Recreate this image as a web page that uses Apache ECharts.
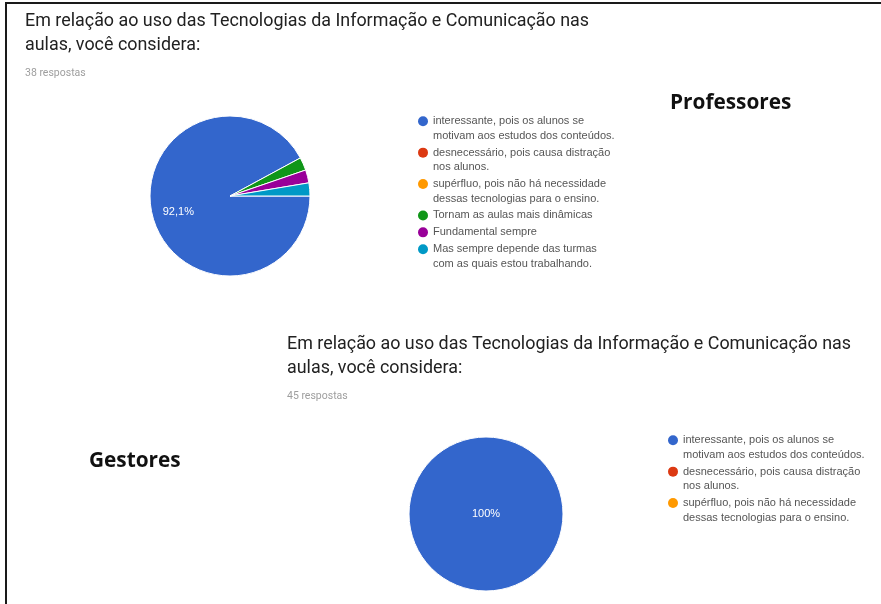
<!DOCTYPE html>
<html>
<head>
<meta charset="utf-8">
<script src="https://cdn.jsdelivr.net/npm/echarts@6/dist/echarts.min.js"></script>
<style>
html,body{margin:0;padding:0;background:#fff;}
#chart{width:881px;height:604px;}
</style>
</head>
<body>
<div id="chart"></div>
<script>
// ---- data ----
var titleText = 'Em relação ao uso das Tecnologias da Informação e Comunicação nas\naulas, você considera:';
var profResponses = '38 respostas';
var gestResponses = '45 respostas';
var profLabel = 'Professores';
var gestLabel = 'Gestores';

var profCategories = [
  'interessante, pois os alunos se\nmotivam aos estudos dos conteúdos.',
  'desnecessário, pois causa distração\nnos alunos.',
  'supérfluo, pois não há necessidade\ndessas tecnologias para o ensino.',
  'Tornam as aulas mais dinâmicas',
  'Fundamental sempre',
  'Mas sempre depende das turmas\ncom as quais estou trabalhando.'
];
var profValues = [35, 0, 0, 1, 1, 1];

var gestCategories = [
  'interessante, pois os alunos se\nmotivam aos estudos dos conteúdos.',
  'desnecessário, pois causa distração\nnos alunos.',
  'supérfluo, pois não há necessidade\ndessas tecnologias para o ensino.'
];
var gestValues = [45, 0, 0];

var palette = ['#3366cc', '#dc3912', '#ff9900', '#109618', '#990099', '#0099c6'];

// ---- build ----
var LH = 14.5;
var twoLineIcon = 'path://M5 0 M5 ' + (2 * LH) + ' M0 ' + (LH / 2) + ' A5 5 0 1 1 10 ' + (LH / 2) + ' A5 5 0 1 1 0 ' + (LH / 2) + ' Z';

function pctFmt(p) {
  var v = p.percent;
  if (Math.abs(v - Math.round(v)) < 1e-9) return Math.round(v) + '%';
  return v.toFixed(1).replace('.', ',') + '%';
}

function buildData(cats, vals, firstLabel) {
  return cats.map(function (c, i) {
    var item = {
      name: c,
      value: vals[i],
      itemStyle: { color: palette[i], borderColor: '#fff', borderWidth: vals[i] > 0 ? 1 : 0 },
      label: { show: i === 0 }
    };
    if (i === 0 && firstLabel) item.label = Object.assign({ show: true }, firstLabel);
    return item;
  });
}

function legendData(cats) {
  return cats.map(function (c) {
    return { name: c, icon: c.indexOf('\n') >= 0 ? twoLineIcon : 'circle' };
  });
}

var legendCommon = {
  orient: 'vertical',
  padding: 0,
  itemWidth: 10,
  itemHeight: 2 * LH,
  itemGap: 2.4,
  selectedMode: false,
  itemStyle: { borderWidth: 0 },
  textStyle: { fontSize: 11, color: '#555', fontFamily: '"Liberation Sans", Arial, sans-serif', lineHeight: LH }
};

var chart = echarts.init(document.getElementById('chart'), null, { renderer: 'canvas' });

var titleStyle = { fontSize: 17.9, lineHeight: 24, fontWeight: 'normal', color: '#212121', fontFamily: 'Roboto, sans-serif' };
var subStyle = { fontSize: 10.5, lineHeight: 14, color: '#9e9e9e', fontFamily: 'Roboto, sans-serif' };
var bigStyle = { fontSize: 20.8, fontWeight: 'bold', color: '#111', fontFamily: '"Open Sans", sans-serif' };

chart.setOption({
  backgroundColor: '#fff',
  animation: false,
  title: [
    { text: titleText, subtext: profResponses, left: 25, top: 10, padding: 0, itemGap: 8, textStyle: titleStyle, subtextStyle: subStyle },
    { text: titleText, subtext: gestResponses, left: 287, top: 333, padding: 0, itemGap: 8, textStyle: titleStyle, subtextStyle: subStyle },
    { text: profLabel, left: 670, top: 93, padding: 0, textStyle: bigStyle },
    { text: gestLabel, left: 89, top: 451, padding: 0, textStyle: bigStyle }
  ],
  legend: [
    Object.assign({}, legendCommon, { left: 418, top: 114, data: legendData(profCategories) }),
    Object.assign({}, legendCommon, { left: 668, top: 433, data: legendData(gestCategories) })
  ],
  series: [
    {
      type: 'pie',
      center: [230, 196],
      radius: [0, 80],
      startAngle: 0,
      clockwise: true,
      silent: true,
      label: {
        position: 'inside',
        formatter: pctFmt,
        color: '#fff',
        fontSize: 11,
        fontFamily: '"Liberation Sans", Arial, sans-serif'
      },
      labelLine: { show: false },
      data: buildData(profCategories, profValues, { offset: [-10, 5] })
    },
    {
      type: 'pie',
      center: [486, 514],
      radius: [0, 77],
      startAngle: 0,
      clockwise: true,
      silent: true,
      label: {
        position: 'center',
        formatter: pctFmt,
        color: '#fff',
        fontSize: 11,
        fontFamily: '"Liberation Sans", Arial, sans-serif'
      },
      labelLine: { show: false },
      data: buildData(gestCategories, gestValues, null)
    }
  ],
  graphic: [
    { type: 'line', shape: { x1: 5, y1: 3, x2: 881, y2: 3 }, style: { stroke: '#1a1a1a', lineWidth: 2 }, silent: true },
    { type: 'line', shape: { x1: 6, y1: 3, x2: 6, y2: 604 }, style: { stroke: '#1a1a1a', lineWidth: 2 }, silent: true }
  ]
});
</script>
</body>
</html>
